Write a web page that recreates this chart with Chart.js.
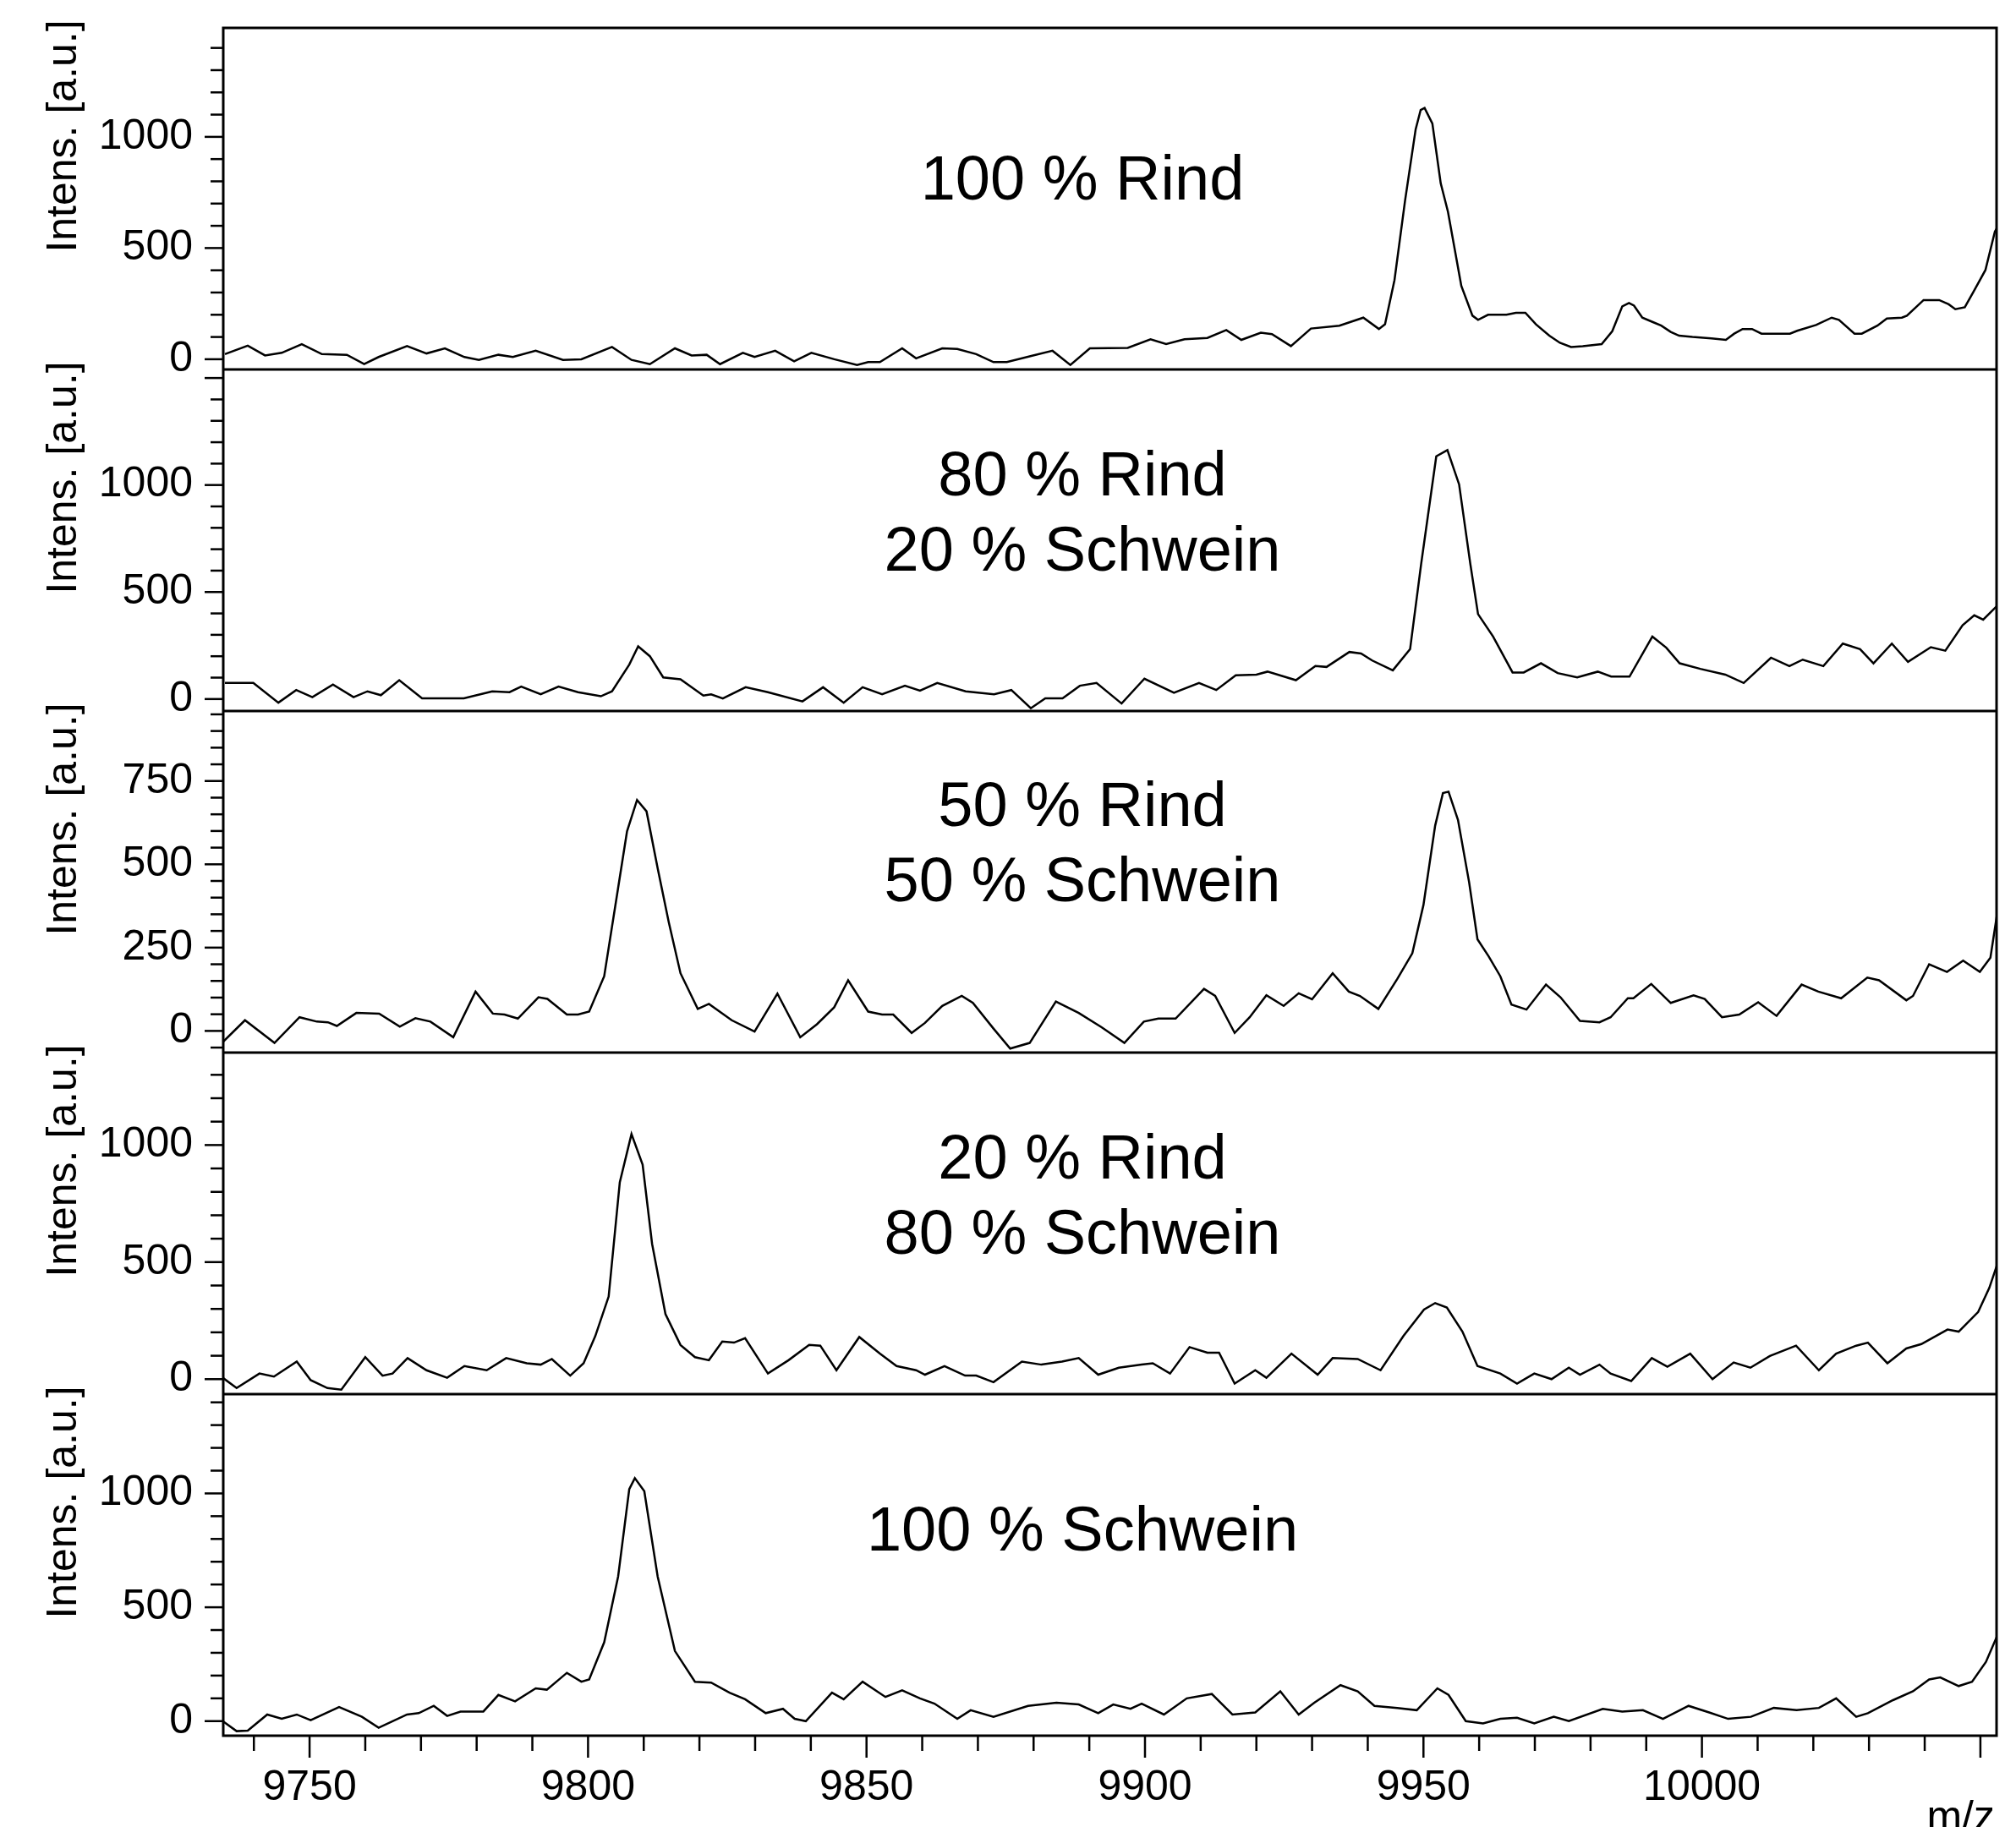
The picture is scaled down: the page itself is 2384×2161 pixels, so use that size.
<!DOCTYPE html>
<html>
<head>
<meta charset="utf-8">
<script src="https://cdn.jsdelivr.net/npm/chart.js@4.4.1/dist/chart.umd.min.js"></script>
<style>
  html, body { margin: 0; padding: 0; background: #fff; }
  canvas { display: block; }
</style>
</head>
<body>
<canvas id="spectra" width="2384" height="2161"></canvas>
<script>
// m/z positions and intensities (top to bottom)
var mzRind100 = [9734.8, 9738.9, 9742, 9745, 9748.6, 9752.2, 9756.7, 9759.8, 9762.4, 9767.5, 9771, 9774.3, 9777.8, 9780.4, 9783.9, 9786.5, 9790.6, 9795.5, 9798.8, 9804.3, 9807.8, 9811.1, 9815.6, 9818.6, 9821.3, 9823.7, 9827.8, 9829.9, 9833.6, 9837, 9840.1, 9844.2, 9848.3, 9850.3, 9852.4, 9856.4, 9858.9, 9863.6, 9866.3, 9869.7, 9872.8, 9875.2, 9879.9, 9883.4, 9886.6, 9890.1, 9896.9, 9901, 9903.8, 9907.1, 9911.2, 9914.6, 9917.3, 9920.8, 9922.8, 9926.2, 9929.8, 9934.9, 9939.2, 9942, 9943.1, 9944.8, 9946.7, 9948.6, 9949.5, 9950.2, 9951.6, 9953.1, 9954.4, 9956.8, 9958.8, 9959.8, 9961.6, 9964.9, 9966.6, 9968.3, 9970.2, 9972.6, 9974.5, 9976.5, 9978.6, 9982, 9983.9, 9985.7, 9986.9, 9987.8, 9989.3, 9991.2, 9992.7, 9994.4, 9995.9, 9998.3, 10001.7, 10004.3, 10005.8, 10007.3, 10009, 10010.7, 10015.8, 10017.1, 10020.5, 10023.3, 10024.6, 10027.4, 10028.7, 10031.5, 10033.2, 10035.9, 10036.8, 10039.8, 10042.6, 10044.3, 10045.5, 10047.2, 10048.8, 10050.9, 10052.6, 10053.2];
var intRind100 = [23, 61, 17, 29, 68, 23, 20, -22, 10, 59, 26, 49, 10, -3, 20, 10, 38, -3, 0, 55, -3, -22, 49, 17, 20, -22, 29, 10, 38, -9, 29, 0, -26, -13, -13, 49, 4, 49, 46, 23, -13, -13, 17, 38, -26, 49, 51, 90, 68, 90, 96, 131, 87, 119, 113, 59, 138, 151, 187, 136, 157, 356, 714, 1034, 1121, 1130, 1060, 791, 663, 330, 196, 177, 200, 200, 209, 209, 157, 106, 74, 55, 59, 68, 126, 238, 253, 241, 187, 167, 151, 123, 106, 100, 94, 87, 115, 136, 136, 115, 115, 128, 154, 187, 177, 115, 115, 151, 183, 187, 196, 266, 266, 247, 225, 234, 305, 401, 574, 600];

var mzRind80 = [9734.8, 9739.9, 9744.4, 9747.6, 9750.5, 9754.2, 9757.9, 9760.4, 9762.8, 9766.1, 9770.2, 9777.7, 9782.8, 9785.9, 9788, 9791.5, 9794.7, 9798.2, 9802.3, 9804.3, 9807.4, 9809, 9811.1, 9813.5, 9816.6, 9820.7, 9822.1, 9824.2, 9828.3, 9832.3, 9838.5, 9842.2, 9845.9, 9849.3, 9852.8, 9856.9, 9859.6, 9862.7, 9867.8, 9872.9, 9876, 9879.5, 9882.1, 9885.2, 9888.3, 9891.3, 9895.8, 9899.9, 9905.2, 9909.7, 9912.8, 9916.3, 9920, 9922, 9927.1, 9930.6, 9932.6, 9936.7, 9938.8, 9940.8, 9944.5, 9947.6, 9949.6, 9952.3, 9954.3, 9956.4, 9958.4, 9959.8, 9962.5, 9966, 9968, 9971.1, 9974.1, 9977.6, 9981.3, 9983.7, 9987, 9991.1, 9993.6, 9996, 9999.7, 10004.2, 10007.5, 10012.4, 10015.7, 10018.1, 10021.8, 10025.3, 10028.4, 10030.8, 10034.1, 10037, 10041.1, 10043.7, 10046.8, 10048.9, 10050.5, 10053.3];
var intRind80 = [75, 75, -17, 42, 9, 68, 9, 36, 18, 88, 3, 3, 36, 32, 58, 22, 58, 32, 13, 36, 161, 246, 200, 101, 92, 16, 22, 3, 55, 32, -11, 55, -17, 55, 22, 62, 39, 75, 36, 22, 42, -43, 3, 3, 62, 75, -21, 95, 29, 75, 42, 111, 114, 128, 88, 154, 150, 220, 213, 180, 134, 233, 634, 1134, 1163, 1003, 634, 397, 292, 124, 124, 167, 121, 101, 128, 105, 105, 292, 240, 167, 141, 114, 75, 193, 154, 184, 154, 259, 233, 167, 259, 174, 242, 226, 345, 391, 371, 443];

var mzRind50 = [9734.5, 9738.4, 9743.7, 9748.2, 9751.3, 9753.3, 9754.9, 9758.4, 9762.5, 9766.2, 9769, 9771.7, 9775.8, 9779.8, 9782.9, 9785, 9787.4, 9791.1, 9792.7, 9796.2, 9798.2, 9800.2, 9802.9, 9805.4, 9807, 9808.8, 9810.5, 9812.5, 9814.5, 9816.6, 9819.7, 9821.7, 9825.8, 9829.9, 9834, 9838.1, 9841.1, 9844.2, 9846.7, 9850.3, 9852.8, 9854.8, 9858.1, 9860.5, 9863.6, 9867.1, 9869.1, 9872.8, 9875.8, 9879.3, 9884, 9888.1, 9892.2, 9896.3, 9899.8, 9902.4, 9905.5, 9910.6, 9912.6, 9916.1, 9918.8, 9921.8, 9924.9, 9927.6, 9930, 9933.7, 9936.6, 9938.6, 9941.9, 9945.3, 9948, 9950, 9952.1, 9953.5, 9954.5, 9956.2, 9958.2, 9959.7, 9961.7, 9963.8, 9965.8, 9968.5, 9972, 9974.6, 9978.1, 9981.6, 9983.6, 9986.7, 9987.7, 9990.9, 9994.4, 9998.5, 10000.5, 10003.6, 10006.7, 10010.1, 10013.4, 10017.9, 10020.9, 10025, 10029.7, 10031.8, 10036.7, 10037.9, 10040.8, 10044, 10046.9, 10049.9, 10051.8, 10053.2];
var intRind50 = [-32, 32, -36, 41, 28, 26, 15, 54, 52, 13, 38, 28, -19, 118, 52, 49, 37, 101, 96, 49, 49, 58, 164, 429, 599, 693, 659, 488, 326, 173, 66, 81, 32, -2, 112, -19, 20, 71, 152, 58, 49, 49, -6, 24, 75, 105, 84, 7, -53, -36, 88, 54, 11, -36, 28, 37, 37, 126, 105, -6, 41, 107, 75, 113, 95, 173, 118, 105, 66, 156, 233, 378, 616, 714, 718, 633, 446, 275, 224, 164, 79, 64, 139, 101, 30, 26, 41, 98, 98, 141, 84, 107, 96, 41, 49, 86, 45, 139, 118, 98, 160, 152, 92, 105, 200, 177, 211, 177, 220, 373];

var mzRind20 = [9734.4, 9736.9, 9741, 9743.6, 9747.7, 9750.2, 9753.2, 9755.7, 9760, 9763.1, 9764.9, 9767.6, 9771, 9774.7, 9777.8, 9781.8, 9785.3, 9789, 9791.5, 9793.5, 9796.8, 9799.2, 9801.3, 9803.7, 9805.7, 9807.8, 9809.8, 9811.5, 9813.9, 9816.6, 9819.2, 9821.7, 9824.1, 9826.2, 9828.2, 9832.3, 9836, 9839.7, 9841.7, 9844.6, 9848.7, 9852.4, 9855.4, 9858.9, 9860.5, 9864, 9867.7, 9869.7, 9872.8, 9877.9, 9881.4, 9885.1, 9888.1, 9891.6, 9895.3, 9899.4, 9901.4, 9904.5, 9908, 9911.2, 9913.3, 9916.1, 9919.8, 9921.8, 9926.3, 9931, 9933.7, 9938.2, 9942.3, 9946.4, 9950.1, 9952.1, 9954.2, 9957, 9959.7, 9963.8, 9966.8, 9969.9, 9973, 9976.1, 9978.1, 9981.6, 9983.6, 9987.3, 9991, 9993.8, 9997.9, 10001.9, 10005.7, 10008.7, 10012.2, 10016.9, 10021, 10024.1, 10027.7, 10029.8, 10033.3, 10036.7, 10039.4, 10044.1, 10046.1, 10049.6, 10051.6, 10053.2];
var intRind20 = [6, -38, 24, 11, 75, -4, -38, -45, 94, 15, 24, 90, 38, 6, 56, 38, 90, 68, 62, 86, 15, 68, 184, 353, 841, 1047, 916, 578, 278, 146, 94, 81, 161, 156, 175, 24, 81, 146, 143, 38, 180, 109, 56, 38, 19, 56, 15, 15, -13, 75, 62, 75, 90, 19, 49, 62, 68, 24, 137, 113, 113, -19, 38, 6, 109, 19, 90, 86, 38, 184, 297, 325, 306, 203, 56, 24, -19, 24, 0, 49, 19, 62, 24, -8, 90, 53, 109, 0, 71, 49, 99, 143, 38, 109, 143, 156, 68, 131, 150, 212, 203, 287, 390, 503];

var mzSchwein100 = [9734.4, 9736.9, 9738.9, 9742.4, 9745, 9747.7, 9750.2, 9755.3, 9759.4, 9762.4, 9767.5, 9769.6, 9772.3, 9774.7, 9777.1, 9781.2, 9783.9, 9786.9, 9790.6, 9792.6, 9796.2, 9798.8, 9800.2, 9802.9, 9805.4, 9807.4, 9808.4, 9810.1, 9812.5, 9815.6, 9819.2, 9822.1, 9825.4, 9828.2, 9831.9, 9835, 9837.1, 9839.1, 9843.8, 9845.9, 9849.3, 9853.4, 9856.4, 9859.6, 9862.2, 9866.3, 9868.7, 9872.8, 9879, 9884.1, 9888.1, 9891.6, 9894.3, 9897.4, 9899.4, 9903.4, 9907.5, 9912, 9915.7, 9919.8, 9924.3, 9927.6, 9930.4, 9935.1, 9938.2, 9941.2, 9945.3, 9948.8, 9952.5, 9954.5, 9957.6, 9960.7, 9963.8, 9966.8, 9969.9, 9973.4, 9976.1, 9982.2, 9985.7, 9989.4, 9993, 9997.6, 10001.3, 10004.7, 10008.8, 10012.9, 10017, 10021, 10024.1, 10027.7, 10029.8, 10034.3, 10037.9, 10040.8, 10042.8, 10046.1, 10048.5, 10051, 10053.2];
var intSchwein100 = [0, -44, -42, 29, 10, 29, 4, 62, 19, -29, 29, 35, 67, 23, 42, 42, 115, 87, 144, 138, 212, 173, 183, 346, 635, 1019, 1067, 1010, 635, 308, 173, 169, 125, 96, 35, 54, 10, 0, 125, 96, 173, 106, 135, 100, 77, 10, 48, 19, 67, 81, 73, 35, 73, 54, 77, 29, 100, 119, 29, 38, 131, 29, 81, 158, 131, 67, 58, 48, 144, 115, 0, -10, 10, 15, -10, 19, 0, 54, 42, 48, 10, 67, 38, 10, 19, 58, 48, 58, 100, 19, 35, 92, 131, 183, 192, 154, 173, 260, 385];

var panelTexts = [['100 % Rind'], ['80 % Rind', '20 % Schwein'], ['50 % Rind', '50 % Schwein'], ['20 % Rind', '80 % Schwein'], ['100 % Schwein']];
var yMins = [-46, -56, -65, -64, -64];
var yMaxs = [1490, 1540, 960, 1395, 1436];
var yMinorSteps = [100, 100, 50, 100, 100];
var yMajorSteps = [500, 500, 250, 500, 500];
var yLastLabels = [1000, 1000, 750, 1000, 1000];
var mzMin = 9734.5, mzMax = 10052.9;
var mzMinorStep = 10, mzMajorStep = 50, mzLastLabel = 10000;

var series = [
    [mzRind100, intRind100],
    [mzRind80, intRind80],
    [mzRind50, intRind50],
    [mzRind20, intRind20],
    [mzSchwein100, intSchwein100]
];

var FONT = '"Liberation Sans", Arial, Helvetica, sans-serif';
Chart.defaults.font.family = FONT;
Chart.defaults.color = '#000';

function isMajor(v, step) {
    return Math.abs(v / step - Math.round(v / step)) < 1e-6;
}

// ticks on plain multiples of the step, whatever the axis limits are
function stepTicks(step) {
    return function(s) {
        var ticks = [];
        for (var k = Math.ceil(s.min / step); k * step <= s.max; k++) {
            ticks.push({ value: k * step });
        }
        s.ticks = ticks;
    };
}

var datasets = series.map(function(s, i) {
    return {
        data: s[0].map(function(m, k) { return {x: m, y: s[1][k]}; }),
        yAxisID: 'y' + i,
        borderColor: '#000',
        borderWidth: 2.5,
        pointRadius: 0,
        tension: 0,
        fill: false
    };
});

var scales = {
    x: {
        type: 'linear',
        position: 'bottom',
        min: mzMin,
        max: mzMax,
        grid: { display: true, drawOnChartArea: false, drawTicks: false },
        border: { display: false },
        afterBuildTicks: stepTicks(mzMinorStep),
        ticks: {
            autoSkip: false,
            maxRotation: 0,
            padding: 32,
            font: { size: 50 },
            callback: function(v) {
                return isMajor(v, mzMajorStep) && v <= mzLastLabel ? String(v) : '';
            }
        },
        afterFit: function(s) {
            s.height = 108;
            s.paddingLeft = 0;
            s.paddingRight = 0;
        }
    }
};

panelTexts.forEach(function(t, i) {
    scales['y' + i] = {
        type: 'linear',
        position: 'left',
        stack: 'spectra',
        stackWeight: 1,
        weight: 10 - i,
        min: yMins[i],
        max: yMaxs[i],
        grid: { display: true, drawOnChartArea: false, drawTicks: false },
        border: { display: false },
        afterBuildTicks: stepTicks(yMinorSteps[i]),
        ticks: {
            autoSkip: false,
            padding: 36,
            font: { size: 50 },
            callback: function(v) {
                return isMajor(v, yMajorSteps[i]) && v <= yLastLabels[i] ? String(v) : '';
            }
        },
        afterFit: function(s) {
            s.width = 264;
            s.paddingTop = 0;
            s.paddingBottom = 0;
        }
    };
});

// frame, panel separators, tick marks and the texts
var decorations = {
    id: 'decorations',
    afterDraw: function(chart) {
        var ctx = chart.ctx;
        var area = chart.chartArea;
        ctx.save();
        ctx.strokeStyle = '#000';
        ctx.fillStyle = '#000';

        ctx.lineWidth = 2.5;
        Object.keys(chart.scales).forEach(function(id) {
            var s = chart.scales[id];
            var idx = id === 'x' ? -1 : Number(id.slice(1));
            var major = idx < 0 ? mzMajorStep : yMajorSteps[idx];
            s.ticks.forEach(function(t) {
                var p = s.getPixelForValue(t.value);
                var big = isMajor(t.value, major);
                ctx.beginPath();
                if (idx < 0) {
                    ctx.moveTo(p, s.top);
                    ctx.lineTo(p, s.top + (big ? 26 : 18));
                } else {
                    ctx.moveTo(s.right, p);
                    ctx.lineTo(s.right - (big ? 22 : 15), p);
                }
                ctx.stroke();
            });
        });

        ctx.lineWidth = 3;
        ctx.strokeRect(area.left, area.top, area.right - area.left, area.bottom - area.top);
        for (var i = 0; i < panelTexts.length; i++) {
            var ys = chart.scales['y' + i];
            if (i < panelTexts.length - 1) {
                ctx.beginPath();
                ctx.moveTo(area.left, ys.bottom);
                ctx.lineTo(area.right, ys.bottom);
                ctx.stroke();
            }

            // sample name
            ctx.font = '74px ' + FONT;
            ctx.textAlign = 'center';
            ctx.textBaseline = 'middle';
            var lines = panelTexts[i];
            var first = lines.length === 1 ? (i === 0 ? 183 : 165) : (i === 2 ? 116 : 129);
            lines.forEach(function(line, k) {
                ctx.fillText(line, area.left + 1016, ys.top + first + k * 89);
            });

            // axis title
            ctx.save();
            ctx.font = '50px ' + FONT;
            ctx.translate(76, ys.top + 128);
            ctx.rotate(-Math.PI / 2);
            ctx.fillText('Intens. [a.u.]', 0, 0);
            ctx.restore();
        }

        ctx.font = '50px ' + FONT;
        ctx.textAlign = 'right';
        ctx.textBaseline = 'alphabetic';
        ctx.fillText('m/z', area.right - 2, chart.height + 4);
        ctx.restore();
    }
};

var chart = new Chart(document.getElementById('spectra').getContext('2d'), {
    type: 'line',
    data: { datasets: datasets },
    options: {
        responsive: false,
        animation: false,
        devicePixelRatio: 1,
        events: [],
        layout: { autoPadding: false, padding: { top: 33, right: 23, left: 0, bottom: 0 } },
        plugins: { legend: { display: false }, tooltip: { enabled: false } },
        scales: scales
    },
    plugins: [decorations]
});
</script>
</body>
</html>
